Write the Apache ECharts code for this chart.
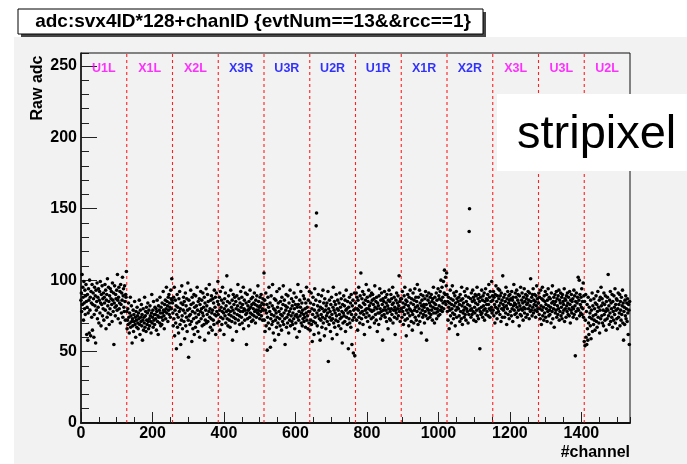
<!DOCTYPE html>
<html>
<head>
<meta charset="utf-8">
<script src="https://cdn.jsdelivr.net/npm/echarts@6/dist/echarts.min.js"></script>
<style>
html,body{margin:0;padding:0;background:#fff;}
#c{width:687px;height:464px;}
</style>
</head>
<body>
<div id="c"></div>
<script>
// ---- data ----
const segNames = ['U1L','X1L','X2L','X3R','U3R','U2R','U1R','X1R','X2R','X3L','U3L','U2L'];
const segColors = ['#ff00ff','#ff00ff','#ff00ff','#0000ff','#0000ff','#0000ff','#0000ff','#0000ff','#0000ff','#ff00ff','#ff00ff','#ff00ff'];
const boundaries = [128,256,384,512,640,768,896,1024,1152,1280,1408];
const xTickLabels = [0,200,400,600,800,1000,1200,1400];
const yTickLabels = [0,50,100,150,200,250];
const chansPerChip = 128;

const adcU1L = [86,91,78,104,83,95,88,72,99,84,80,93,76,89,97,85,62,81,90,58,77,94,86,63,100,79,88,61,92,84,74,97,65,83,91,87,60,76,95,82,89,56,93,79,85,98,73,88,81,94,70,86,92,77,99,84,68,90,83,96,75,87,80,91,72,88,84,97,79,93,66,86,90,74,101,82,77,95,85,69,89,80,94,76,87,92,83,71,98,86,78,91,55,84,96,81,75,90,87,82,93,79,104,86,73,88,95,80,84,92,70,97,83,77,91,86,102,74,89,94,81,78,96,85,72,90,88,106];
const adcX1L = [78,66,72,80,69,84,74,63,77,70,88,67,75,82,71,56,73,68,79,64,76,71,85,69,74,60,78,72,67,81,75,70,66,77,73,86,69,62,79,74,71,83,68,76,58,72,80,65,74,70,88,67,75,78,64,81,72,69,77,84,71,66,79,73,68,82,75,71,63,77,90,70,74,79,67,85,72,76,69,81,76,73,80,65,78,86,71,75,62,82,74,79,70,88,77,68,81,74,69,84,77,72,92,79,75,66,83,78,86,73,80,95,77,85,82,71,88,79,90,76,84,81,74,93,87,80,101,86];
const adcX2L = [84,77,68,88,73,95,61,79,86,70,82,52,76,90,67,81,74,63,87,78,92,69,80,55,84,72,96,75,66,83,79,88,71,85,59,77,91,68,82,74,87,64,79,98,72,46,86,75,80,69,76,93,83,71,57,88,78,66,84,73,90,62,81,77,67,89,74,82,70,95,79,64,85,76,71,87,60,83,78,92,73,80,86,68,77,91,75,81,69,88,58,84,72,79,94,70,82,76,90,71,85,63,78,97,74,80,67,86,73,89,77,65,79,87,72,84,69,93,76,81,88,62,75,91,78,70,85,99];
const adcX3R = [76,83,71,88,79,65,92,74,81,86,69,78,95,73,84,77,62,80,87,75,91,70,82,78,103,73,85,68,79,89,76,72,84,67,78,93,75,81,71,86,58,79,90,74,83,77,88,70,73,85,80,64,89,76,82,97,72,79,87,75,69,84,78,92,81,74,88,70,83,78,95,66,80,86,72,79,91,76,84,55,77,90,73,82,79,68,85,80,74,93,77,81,87,71,83,76,88,72,80,84,75,91,78,83,70,86,79,74,89,82,77,96,79,85,76,81,73,88,82,78,90,75,84,80,72,87,79,83];
const adcU3R = [105,72,86,64,79,91,68,77,83,51,74,88,70,81,95,66,78,84,53,73,89,76,69,82,97,71,63,80,75,87,58,79,72,86,77,67,92,74,81,70,84,62,78,94,73,68,85,76,80,65,88,75,71,83,96,69,77,86,73,55,82,79,90,67,74,81,70,89,76,63,84,78,72,93,68,80,75,87,71,82,69,77,85,73,91,80,66,75,83,70,88,76,60,81,74,97,83,72,78,64,86,75,81,92,70,77,84,68,79,73,89,76,71,87,74,80,67,84,77,95,72,81,75,66,86,78,70,92];
const adcU2R = [78,65,84,72,91,69,80,57,76,88,71,83,62,79,94,74,70,86,138,147,77,68,82,75,90,63,79,73,85,58,81,72,76,89,67,80,74,93,70,84,78,61,87,73,79,66,82,75,84,71,77,92,43,80,69,86,74,78,64,83,72,88,76,59,73,81,95,70,79,85,67,77,83,72,90,75,62,80,86,71,79,68,84,76,91,73,81,66,87,74,78,56,83,70,77,89,75,82,71,86,64,79,93,74,80,69,85,77,52,81,73,88,70,78,84,67,90,76,55,82,72,86,49,79,74,91,47,80];
const adcU1R = [84,76,91,72,88,80,65,86,79,95,74,82,70,89,77,105,81,73,87,78,92,69,84,76,90,62,83,79,86,74,97,80,77,88,71,85,80,93,75,82,67,89,79,84,73,91,78,86,90,74,83,79,87,70,96,81,76,85,72,88,80,64,84,77,82,69,89,77,94,80,73,86,78,91,75,83,58,87,79,85,76,92,81,74,88,79,84,71,90,77,82,66,86,80,93,73,85,78,72,90,80,87,76,83,95,70,84,79,88,74,81,62,79,86,77,91,73,84,80,89,75,82,103,78,85,71,87,80];
const adcX1R = [80,87,74,92,78,84,69,81,89,76,95,72,83,86,61,79,85,73,90,77,82,68,88,80,75,93,79,84,71,87,78,65,76,91,83,70,86,79,94,74,81,88,72,85,78,97,82,69,88,75,80,93,71,84,77,90,63,82,86,79,74,89,76,83,81,70,87,78,92,75,83,58,89,80,73,86,79,91,77,84,74,88,82,76,90,79,85,72,87,81,95,77,84,70,88,80,83,77,91,73,86,80,78,94,75,89,82,87,76,92,79,100,86,81,95,78,88,84,99,80,91,107,85,90,102,83,96,105];
const adcX2R = [90,78,85,72,88,81,66,84,79,93,75,87,70,83,80,96,77,86,73,91,82,76,89,68,84,79,92,74,87,81,62,85,80,88,75,83,71,90,78,86,73,95,82,69,87,77,84,79,74,92,81,76,89,72,85,80,94,78,83,70,88,76,134,150,82,79,87,74,91,80,76,85,93,78,88,72,86,81,77,90,84,71,89,79,95,75,83,87,73,90,80,85,52,78,88,76,81,93,77,86,74,89,82,79,91,72,85,80,94,76,87,83,78,86,90,75,83,97,80,88,74,92,79,85,81,99,77,89];
const adcX3L = [86,79,92,75,88,83,70,90,81,96,77,85,73,89,80,94,78,87,82,93,76,89,84,71,91,80,86,74,103,83,79,88,81,74,90,85,77,95,82,69,87,80,92,76,84,89,73,86,90,78,83,87,75,92,80,86,71,88,82,97,79,84,76,91,83,88,77,93,81,74,86,90,79,84,68,89,82,76,95,80,75,86,91,79,84,72,88,81,94,77,85,80,90,74,87,83,89,76,84,92,80,86,73,91,82,78,101,85,79,88,75,90,81,94,77,86,83,90,79,85,74,89,82,96,78,87,80,84];
const adcU3L = [84,91,76,88,80,73,93,82,69,87,79,95,75,86,81,72,89,77,85,92,74,83,80,90,71,86,78,94,82,75,88,79,76,87,81,70,91,84,78,96,73,85,80,88,67,83,90,77,85,79,92,74,87,82,76,89,80,93,72,86,78,84,91,75,81,88,73,90,77,85,83,79,94,71,87,80,86,74,89,82,78,91,84,76,88,80,75,92,83,70,86,79,90,77,85,81,87,74,80,93,76,89,82,47,85,78,91,73,84,88,80,102,79,86,100,75,90,83,77,88,81,94,76,85,80,98,74,89];
const adcU2L = [57,85,54,72,90,60,78,55,83,66,58,88,70,62,81,74,77,68,86,59,79,73,91,64,82,75,69,87,72,80,65,84,76,89,71,83,67,78,92,74,81,70,86,63,79,88,73,95,82,75,87,70,84,79,68,91,76,83,72,89,78,65,85,80,73,88,79,104,75,82,69,86,77,92,71,84,80,74,90,67,85,78,72,89,81,76,94,70,83,79,87,73,86,66,80,91,74,83,77,90,68,85,79,72,88,76,82,93,70,84,58,78,81,69,86,75,89,73,80,84,71,87,77,62,83,79,55,85];

const segValues = [adcU1L,adcX1L,adcX2L,adcX3R,adcU3R,adcU2R,adcU1R,adcX1R,adcX2R,adcX3L,adcU3L,adcU2L];

// ---- build ----
const points = [];
segValues.forEach((arr, s) => arr.forEach((v, i) => points.push([s * chansPerChip + i, v])));

const FONT = '"Liberation Sans", Arial, Helvetica, sans-serif';
const X0 = 81, XW = 549, Y0 = 53, YH = 370;
const YMAX = 259;

const boundarySeries = boundaries.map(b => ({
  type: 'line', xAxisIndex: 0, yAxisIndex: 0, data: [[b, 0], [b, YMAX]], symbol: 'none', silent: true, z: 2,
  lineStyle: {color: '#ff2020', type: [3, 3], width: 1.1}
}));

const chart = echarts.init(document.getElementById('c'), null, {renderer: 'canvas'});
chart.setOption({
  animation: false,
  backgroundColor: '#ffffff',
  grid: {left: X0, top: Y0, width: XW, height: YH, show: true, backgroundColor: 'transparent', borderColor: '#111', borderWidth: 1, z: 3},
  xAxis: [
    {type: 'value', min: 0, max: 1536, interval: 200, position: 'bottom',
     axisLine: {show: true, onZero: false, lineStyle: {color: '#111', width: 2}},
     axisTick: {show: true, inside: true, length: 11, lineStyle: {color: '#222', width: 1}},
     splitLine: {show: false},
     axisLabel: {show: true, margin: 3, color: '#000', fontFamily: FONT, fontWeight: 'bold', fontSize: 16, showMaxLabel: false,
       formatter: v => (xTickLabels.indexOf(v) >= 0 ? String(v) : '')}},
    {type: 'value', min: 0, max: 1536, interval: 50, position: 'bottom', offset: 0,
     axisLine: {show: false}, axisTick: {show: true, inside: true, length: 6, lineStyle: {color: '#222', width: 1}},
     splitLine: {show: false}, axisLabel: {show: false}}
  ],
  yAxis: [
    {type: 'value', min: 0, max: YMAX, interval: 50, position: 'left',
     axisLine: {show: true, onZero: false, lineStyle: {color: '#111', width: 1.5}},
     axisTick: {show: true, inside: true, length: 16, lineStyle: {color: '#222', width: 1}},
     splitLine: {show: false},
     axisLabel: {show: true, margin: 4, color: '#000', fontFamily: FONT, fontWeight: 'bold', fontSize: 16, showMaxLabel: false,
       formatter: v => (yTickLabels.indexOf(v) >= 0 ? String(v) : '')}},
    {type: 'value', min: 0, max: YMAX, interval: 10, position: 'left', offset: 0,
     axisLine: {show: false}, axisTick: {show: true, inside: true, length: 8, lineStyle: {color: '#222', width: 1}},
     splitLine: {show: false}, axisLabel: {show: false}}
  ],
  series: boundarySeries.concat([
    {type: 'scatter', xAxisIndex: 0, yAxisIndex: 0, data: points, symbol: 'circle', symbolSize: 3.6,
     itemStyle: {color: '#000', opacity: 1}, z: 4, silent: true},
    {type: 'scatter', xAxisIndex: 0, yAxisIndex: 0, symbolSize: 0, z: 5, silent: true,
     data: segNames.map((n, i) => ({value: [i * chansPerChip + chansPerChip / 2, 248], name: n,
       label: {show: true, position: 'inside', formatter: n, color: segColors[i], fontFamily: FONT, fontWeight: 'bold', fontSize: 12.5}}))}
  ]),
  graphic: [
    {type: 'rect', z: -10, silent: true, shape: {x: 14, y: 37, width: 700, height: 440}, style: {fill: '#f2f2f2'}},
    // title box
    {type: 'rect', z: 10, shape: {x: 21, y: 12, width: 465, height: 25}, style: {fill: '#444'}},
    {type: 'rect', z: 11, shape: {x: 18, y: 9, width: 465, height: 25}, style: {fill: '#fff', stroke: '#000', lineWidth: 1}},
    {type: 'text', z: 12, x: 253, y: 22, style: {text: 'adc:svx4ID*128+chanID {evtNum==13&&rcc==1}', fill: '#000',
      font: 'bold 19px ' + FONT, textAlign: 'center', textVerticalAlign: 'middle'}},
    // axis titles
    {type: 'text', z: 12, x: 38, y: 88, rotation: Math.PI / 2, style: {text: 'Raw adc', fill: '#000',
      font: 'bold 16px ' + FONT, textAlign: 'center', textVerticalAlign: 'middle'}},
    {type: 'text', z: 12, x: 630, y: 453, style: {text: '#channel', fill: '#000',
      font: 'bold 16px ' + FONT, textAlign: 'right', textVerticalAlign: 'middle'}},
    // stripixel box
    {type: 'rect', z: 20, shape: {x: 497, y: 94, width: 200, height: 77}, style: {fill: '#fff'}},
    {type: 'text', z: 21, x: 517, y: 135, style: {text: 'stripixel', fill: '#000',
      font: '47px ' + FONT, textAlign: 'left', textVerticalAlign: 'middle'}}
  ]
});
</script>
</body>
</html>
